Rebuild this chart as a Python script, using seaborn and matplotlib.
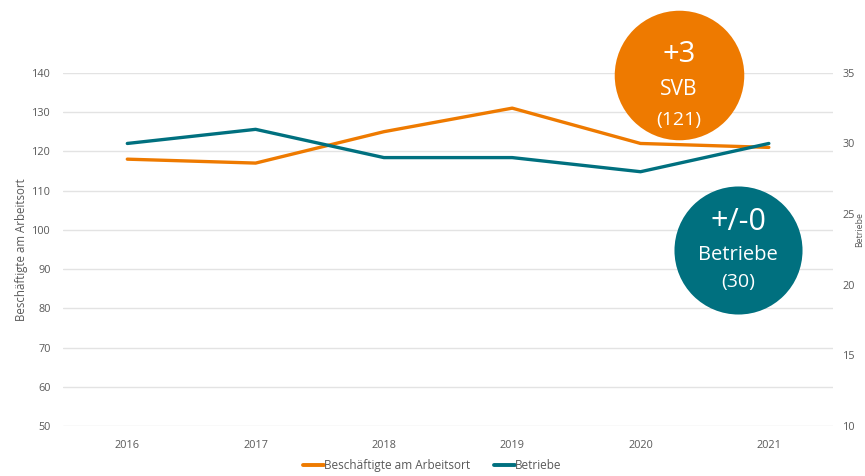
import pandas as pd
import matplotlib.pyplot as plt
import seaborn as sns
from matplotlib.lines import Line2D

# Daten
jahre = ['2016', '2017', '2018', '2019', '2020', '2021']
beschaeftigte = [118, 117, 125, 131, 122, 121]
betriebe = [30, 31, 29, 29, 28, 30]

ORANGE = '#EE7A00'
TEAL = '#00707F'
GREY = '#595959'

df = pd.DataFrame({'jahr': jahre, 'svb': beschaeftigte, 'betriebe': betriebe})

sns.set_theme(style='white')
plt.rcParams['font.family'] = ['Open Sans', 'DejaVu Sans']

fig = plt.figure(figsize=(8.65, 4.76), dpi=100)
ax = fig.add_axes([0.073, 0.105, 0.89, 0.742])
ax2 = ax.twinx()

sns.lineplot(data=df, x='jahr', y='svb', ax=ax, color=ORANGE, linewidth=2.4, sort=False)
sns.lineplot(data=df, x='jahr', y='betriebe', ax=ax2, color=TEAL, linewidth=2.4, sort=False)

ax.set_xlim(-0.5, 5.5)
ax.set_ylim(50, 140)
ax.set_yticks(range(50, 141, 10))
ax2.set_ylim(10, 35)
ax2.set_yticks(range(10, 36, 5))

ax.yaxis.grid(True, color='#E3E3E3', linewidth=1)
ax.set_axisbelow(True)
for a in (ax, ax2):
    for s in a.spines.values():
        s.set_visible(False)
    a.tick_params(length=0, labelsize=7.8, labelcolor=GREY)
ax.tick_params(axis='x', pad=10)
ax.tick_params(axis='y', pad=9)
ax2.tick_params(axis='y', pad=7)

ax.set_xlabel('')
ax.set_ylabel('Beschäftigte am Arbeitsort', fontsize=8.3, color=GREY, labelpad=3)
ax2.set_ylabel('')
fig.text(0.9938, 0.517, 'Betriebe', rotation=90, ha='center', va='center', fontsize=6.3, color=GREY)

# Kreise mit Kennzahlen
ax.scatter([4.30], [139.5], s=8700, color=ORANGE, zorder=5, clip_on=False, linewidths=0)
ax.text(4.30, 144.6, '+3', ha='center', va='center', fontsize=21, color='white', zorder=6)
ax.text(4.30, 135.8, 'SVB', ha='center', va='center', fontsize=15, color='white', zorder=6)
ax.text(4.30, 128.0, '(121)', ha='center', va='center', fontsize=14, color='white', zorder=6)

ax.scatter([4.76], [94.9], s=8500, color=TEAL, zorder=5, clip_on=False, linewidths=0)
ax.text(4.76, 102.0, '+/-0', ha='center', va='center', fontsize=22, color='white', zorder=6)
ax.text(4.76, 93.6, 'Betriebe', ha='center', va='center', fontsize=14.5, color='white', zorder=6)
ax.text(4.76, 86.6, '(30)', ha='center', va='center', fontsize=14, color='white', zorder=6)

legend_elements = [Line2D([0], [0], color=ORANGE, lw=2.8, label='Beschäftigte am Arbeitsort'),
                   Line2D([0], [0], color=TEAL, lw=2.8, label='Betriebe')]
fig.legend(handles=legend_elements, loc='lower center', bbox_to_anchor=(0.5, -0.014), ncol=2,
           frameon=False, fontsize=8.5, handlelength=1.8, handletextpad=0.0, columnspacing=2.0,
           labelcolor=GREY)

plt.savefig('out.png', dpi=100)
